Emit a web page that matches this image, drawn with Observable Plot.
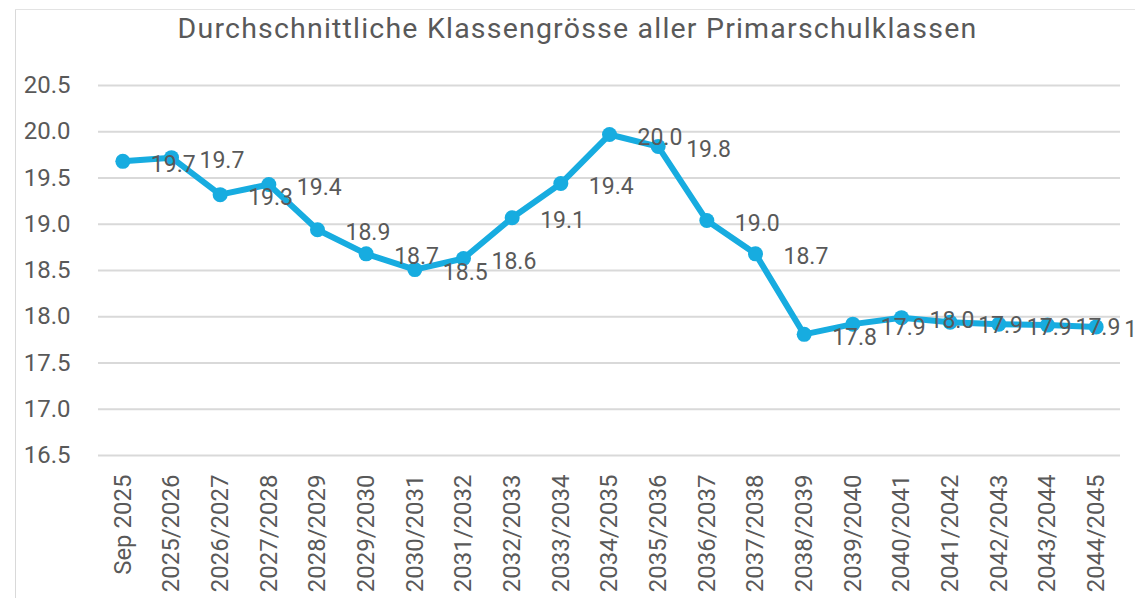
<!DOCTYPE html>
<html>
<head>
<meta charset="utf-8">
<script src="https://cdn.jsdelivr.net/npm/d3@7"></script>
<script src="https://cdn.jsdelivr.net/npm/@observablehq/plot@0.6"></script>
<style>
  html, body { margin: 0; padding: 0; background: #fff; }
  #wrap { position: relative; width: 1135px; height: 598px; overflow: hidden; }
  #borderL { position: absolute; left: 15px; top: 9px; width: 0; height: 589px; border-left: 1.5px solid #d9d9d9; }
  #borderT { position: absolute; left: 15px; top: 9px; width: 1120px; height: 0; border-top: 1.5px solid #e3e3e3; }
  #title { position: absolute; left: 10px; top: 0; width: 1135px; height: 58px; line-height: 58px; text-align: center;
           font-family: Roboto, "DejaVu Sans", sans-serif; font-size: 28.5px; color: #595959; letter-spacing: 1.2px; }
  #chart { position: absolute; left: 0; top: 60px; }
</style>
</head>
<body>
<div id="wrap">
  <div id="borderL"></div>
  <div id="borderT"></div>
  <div id="title">Durchschnittliche Klassengrösse aller Primarschulklassen</div>
  <div id="chart"></div>
</div>
<script>
const categories = ["Sep 2025","2025/2026","2026/2027","2027/2028","2028/2029","2029/2030","2030/2031","2031/2032","2032/2033","2033/2034","2034/2035","2035/2036","2036/2037","2037/2038","2038/2039","2039/2040","2040/2041","2041/2042","2042/2043","2043/2044","2044/2045"];
const values = [19.68,19.72,19.32,19.43,18.94,18.68,18.51,18.63,19.07,19.44,19.97,19.84,19.04,18.68,17.81,17.92,17.99,17.94,17.92,17.91,17.89];
const yTicks = [16.5,17.0,17.5,18.0,18.5,19.0,19.5,20.0,20.5];

const data = categories.map((c, i) => ({cat: c, v: values[i]}));
const font = 'Roboto, "DejaVu Sans", sans-serif';
const color = "#17ace0";

const plot = Plot.plot({
  width: 1135,
  height: 538,
  marginTop: 25,
  marginBottom: 143,
  marginLeft: 98,
  marginRight: 15,
  style: {fontFamily: font, color: "#595959", background: "transparent", overflow: "visible"},
  x: {type: "point", domain: categories, padding: 0.5, round: false, label: null},
  y: {domain: [16.5, 20.5], ticks: yTicks, label: null},
  marks: [
    Plot.gridY(yTicks, {stroke: "#d9d9d9", strokeOpacity: 1, strokeWidth: 2}),
    Plot.axisY(yTicks, {tickSize: 0, tickPadding: 28, fontSize: 24, tickFormat: d => d.toFixed(1), fill: "#595959"}),
    Plot.axisX({tickSize: 0, tickPadding: 19, tickRotate: -90, fontSize: 24, fill: "#595959"}),
    Plot.line(data, {x: "cat", y: "v", stroke: color, strokeWidth: 6, strokeLinejoin: "round"}),
    Plot.dot(data, {x: "cat", y: "v", r: 7.5, fill: color}),
    Plot.text(data, {x: "cat", y: "v", text: d => d.v.toFixed(1), dx: 28, dy: 3, textAnchor: "start", fontSize: 23, fill: "#595959"})
  ]
});
document.getElementById("chart").appendChild(plot);
</script>
</body>
</html>
